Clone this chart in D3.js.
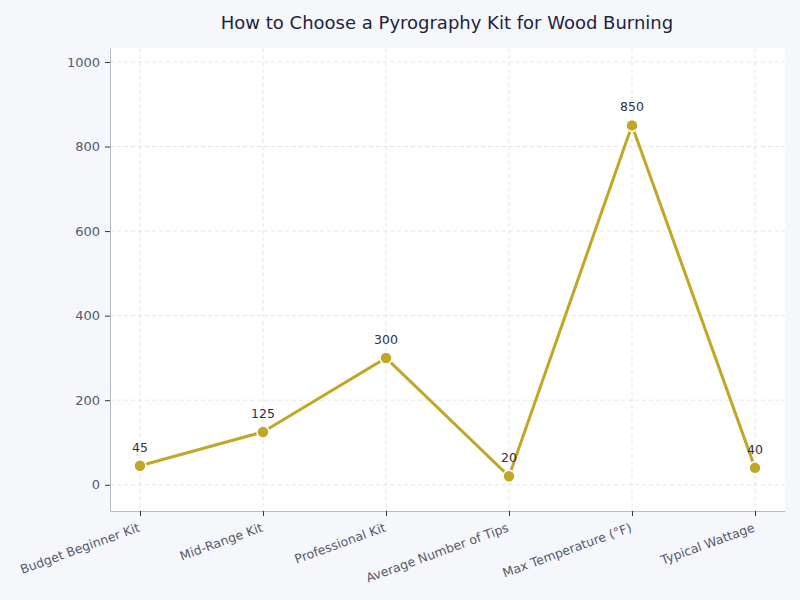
<!DOCTYPE html>
<html>
<head>
<meta charset="utf-8">
<script src="https://cdn.jsdelivr.net/npm/d3@7"></script>
<style>
  body { margin: 0; background: #f5f7fb; }
  svg, svg text { font-family: "DejaVu Sans", sans-serif; }
</style>
</head>
<body>
<svg></svg>
<script>
var width = 800;
var height = 600;
var margin = { top: 48, right: 15, bottom: 89, left: 110 };

var categories = [
  "Budget Beginner Kit",
  "Mid-Range Kit",
  "Professional Kit",
  "Average Number of Tips",
  "Max Temperature (°F)",
  "Typical Wattage",
];
var values = [45, 125, 300, 20, 850, 40];
var yTicks = [0, 200, 400, 600, 800, 1000];

var svg = d3.select("svg").attr("width", width).attr("height", height);

svg.append("rect")
  .attr("width", width)
  .attr("height", height)
  .attr("fill", "#f5f7fb");

// plot background
svg.append("rect")
  .attr("x", margin.left)
  .attr("y", margin.top)
  .attr("width", width - margin.left - margin.right)
  .attr("height", height - margin.top - margin.bottom)
  .attr("fill", "#ffffff");

var xScale = d3
  .scalePoint()
  .domain(categories)
  .range([margin.left, width - margin.right])
  .padding(0.244);

var yScale = d3
  .scaleLinear()
  .domain([-62, 1033])
  .range([height - margin.bottom, margin.top]);

// grid
svg.append("g")
  .selectAll("line")
  .data(yTicks)
  .enter()
  .append("line")
  .attr("x1", margin.left)
  .attr("x2", width - margin.right)
  .attr("y1", (d) => yScale(d))
  .attr("y2", (d) => yScale(d))
  .attr("stroke", "#dedede")
  .attr("stroke-width", 0.8)
  .attr("stroke-dasharray", "4,3");

svg.append("g")
  .selectAll("line")
  .data(categories)
  .enter()
  .append("line")
  .attr("x1", (d) => xScale(d))
  .attr("x2", (d) => xScale(d))
  .attr("y1", margin.top)
  .attr("y2", height - margin.bottom)
  .attr("stroke", "#dedede")
  .attr("stroke-width", 0.8)
  .attr("stroke-dasharray", "4,3");

// axes
var xAxis = d3.axisBottom(xScale).tickSize(5).tickSizeOuter(0);
var yAxis = d3
  .axisLeft(yScale)
  .tickValues(yTicks)
  .tickFormat(d3.format("d"))
  .tickSize(5)
  .tickSizeOuter(0);

var gx = svg.append("g")
  .attr("transform", `translate(0, ${height - margin.bottom})`)
  .attr("font-family", "DejaVu Sans")
  .call(xAxis);
gx.select(".domain").attr("stroke", "#b8bac4");
gx.selectAll(".tick line").attr("stroke", "#333");
gx.selectAll(".tick text")
  .attr("fill", "#555a6a")
  .style("font-size", "12.5px")
  .style("text-anchor", "end")
  .attr("y", 0)
  .attr("dy", "0")
  .attr("transform", "translate(0, 20) rotate(-20)");

var gy = svg.append("g")
  .attr("transform", `translate(${margin.left}, 0)`)
  .attr("font-family", "DejaVu Sans")
  .call(yAxis);
gy.select(".domain").attr("stroke", "#b8bac4");
gy.selectAll(".tick line").attr("stroke", "#333");
gy.selectAll(".tick text")
  .attr("fill", "#555a6a")
  .style("font-size", "13px")
  .attr("x", -10);

// line
var line = d3
  .line()
  .x((d, i) => xScale(categories[i]))
  .y((d) => yScale(d));

svg.append("path")
  .datum(values)
  .attr("d", line)
  .attr("fill", "none")
  .attr("stroke", "#c2a626")
  .attr("stroke-width", 3);

svg.append("g")
  .selectAll("circle")
  .data(values)
  .enter()
  .append("circle")
  .attr("cx", (d, i) => xScale(categories[i]))
  .attr("cy", (d) => yScale(d))
  .attr("r", 6)
  .attr("fill", "#c2a626")
  .attr("stroke", "#fff")
  .attr("stroke-width", 1.5);

// value labels
svg.append("g")
  .selectAll("text")
  .data(values)
  .enter()
  .append("text")
  .attr("x", (d, i) => xScale(categories[i]))
  .attr("y", (d) => yScale(d) - 14)
  .style("text-anchor", "middle")
  .style("font-size", "12.5px")
  .attr("fill", "#2d3142")
  .text((d) => d);

// title
svg.append("text")
  .attr("x", 447)
  .attr("y", 29)
  .style("text-anchor", "middle")
  .style("font-size", "18px")
  .attr("fill", "#1a2540")
  .text("How to Choose a Pyrography Kit for Wood Burning");
</script>
</body>
</html>
